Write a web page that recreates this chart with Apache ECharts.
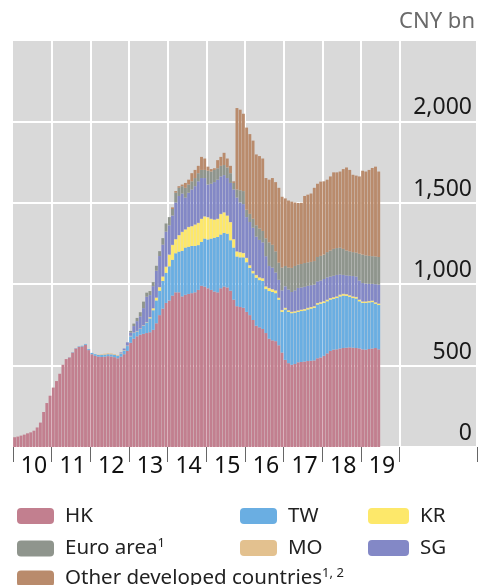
<!DOCTYPE html>
<html>
<head>
<meta charset="utf-8">
<script src="https://cdn.jsdelivr.net/npm/echarts@6/dist/echarts.min.js"></script>
<style>
  html, body { margin: 0; padding: 0; background: #fff; }
  #chart { width: 480px; height: 585px; }
</style>
</head>
<body>
<div id="chart"></div>
<script>
// axis spans 2010-2021 monthly, data runs Jan 2010 - Jun 2019
const years = ['10', '11', '12', '13', '14', '15', '16', '17', '18', '19', '20', '21']
const yTicks = [0, 500, 1000, 1500, 2000, 2500]

// CNY bn, one value per month
const hk = [
  60, 64, 70, 76, 84, 90, 100, 120, 150, 215, 270, 315,
  365, 405, 450, 505, 540, 550, 580, 605, 615, 618, 628, 595,
  570, 560, 555, 553, 555, 558, 556, 552, 545, 555, 570, 590,
  640, 665, 680, 690, 695, 700, 705, 720, 760, 810, 850, 885,
  900, 930, 950, 950, 925, 935, 940, 945, 950, 965, 990, 985,
  975, 965, 955, 950, 975, 985, 980, 960, 905, 865, 860, 855,
  830, 810, 780, 745, 735, 725, 700, 665, 655, 650, 625, 580,
  535, 515, 505, 510, 520, 522, 525, 528, 530, 532, 545, 550,
  560, 575, 590, 598, 600, 605, 608, 610, 612, 610, 608, 606,
  600, 598, 602, 605, 608, 600
]
const tw = [
  0, 0, 0, 0, 0, 0, 0, 0, 0, 0, 0, 0,
  0, 0, 0, 0, 0, 1, 2, 2, 3, 4, 5, 6,
  8, 10, 10, 12, 12, 12, 13, 14, 16, 18, 22, 30,
  40, 35, 30, 35, 50, 65, 85, 120, 140, 150, 170, 185,
  210, 220, 240, 250, 280, 290, 290, 290, 285, 275, 270, 295,
  300, 315, 330, 340, 330, 330, 330, 310, 320, 305, 305, 310,
  305, 290, 287, 295, 290, 295, 270, 293, 297, 295, 280, 250,
  310, 315, 317, 315, 310, 313, 313, 317, 320, 323, 330, 330,
  325, 320, 315, 312, 315, 320, 322, 318, 310, 305, 304, 289,
  285, 287, 286, 285, 272, 272
]
const kr = [
  0, 0, 0, 0, 0, 0, 0, 0, 0, 0, 0, 0,
  0, 0, 0, 0, 0, 0, 0, 0, 0, 0, 0, 0,
  0, 0, 0, 0, 0, 0, 0, 0, 0, 0, 0, 0,
  0, 0, 0, 0, 0, 0, 5, 10, 15, 20, 25, 35,
  70, 90, 85, 100, 115, 110, 120, 120, 130, 135, 140, 135,
  135, 120, 110, 110, 125, 125, 110, 110, 50, 30, 30, 25,
  25, 15, 13, 15, 15, 15, 15, 17, 16, 15, 10, 10,
  8, 8, 7, 7, 7, 7, 8, 8, 8, 8, 8, 8,
  8, 8, 8, 8, 8, 9, 9, 9, 8, 8, 8, 8,
  7, 7, 7, 7, 7, 7
]
const mo = [
  0, 0, 0, 0, 0, 0, 0, 0, 0, 0, 0, 0,
  0, 0, 0, 0, 0, 0, 0, 0, 0, 0, 0, 0,
  0, 0, 2, 4, 6, 6, 6, 5, 4, 3, 3, 3,
  3, 3, 3, 3, 3, 3, 3, 3, 3, 3, 3, 3,
  2, 2, 2, 2, 2, 2, 2, 2, 2, 2, 2, 2,
  2, 2, 2, 2, 2, 2, 2, 2, 2, 2, 2, 2,
  2, 2, 2, 2, 2, 2, 2, 2, 2, 2, 2, 2,
  2, 2, 2, 2, 2, 2, 2, 2, 2, 2, 2, 2,
  2, 2, 2, 2, 2, 2, 2, 2, 2, 2, 2, 2,
  2, 2, 2, 2, 2, 2
]
const sg = [
  0, 0, 0, 0, 0, 0, 0, 0, 0, 0, 0, 0,
  0, 0, 0, 0, 0, 0, 0, 0, 0, 0, 0, 0,
  0, 0, 0, 0, 0, 0, 0, 0, 0, 5, 10, 20,
  20, 40, 60, 75, 105, 155, 135, 135, 165, 190, 195, 215,
  180, 180, 225, 240, 235, 195, 210, 225, 235, 255, 250, 235,
  200, 215, 230, 240, 230, 228, 230, 240, 305, 330, 305, 300,
  250, 265, 265, 235, 230, 220, 185, 135, 132, 110, 110, 120,
  132, 127, 121, 128, 138, 136, 136, 135, 134, 132, 132, 132,
  137, 137, 132, 132, 132, 124, 116, 115, 120, 125, 125, 117,
  113, 110, 105, 103, 111, 116
]
const euro = [
  0, 0, 0, 0, 0, 0, 0, 0, 0, 0, 0, 0,
  0, 0, 0, 0, 0, 0, 0, 0, 0, 0, 0, 0,
  0, 0, 0, 0, 0, 0, 0, 0, 0, 0, 0, 0,
  10, 15, 20, 25, 40, 25, 25, 25, 30, 30, 40, 50,
  50, 40, 60, 50, 45, 60, 50, 50, 50, 50, 50, 50,
  85, 75, 75, 70, 65, 62, 65, 60, 40, 50, 75, 80,
  45, 50, 55, 70, 70, 70, 110, 145, 140, 130, 105, 140,
  125, 135, 148, 150, 143, 144, 146, 144, 143, 145, 150, 152,
  150, 155, 160, 165, 165, 164, 160, 153, 150, 147, 147, 165,
  175, 173, 172, 170, 170, 170
]
const other = [
  0, 0, 0, 0, 0, 0, 0, 0, 0, 0, 0, 0,
  0, 0, 0, 0, 0, 0, 0, 0, 0, 0, 0, 0,
  0, 0, 0, 0, 0, 0, 0, 0, 0, 0, 0, 0,
  0, 0, 0, 0, 0, 0, 0, 0, 0, 0, 0, 0,
  0, 10, 10, 10, 10, 30, 30, 50, 50, 45, 80, 70,
  25, 15, 10, 50, 55, 75, 55, 45, 10, 500, 495, 475,
  505, 490, 480, 435, 445, 445, 370, 385, 410, 425, 460, 435,
  415, 412, 407, 390, 379, 376, 412, 416, 420, 450, 450, 456,
  450, 445, 455, 470, 465, 468, 490, 510, 500, 475, 473, 475,
  515, 515, 528, 542, 552, 525
]

const months = []
years.forEach(y => {
  for (let m = 1; m <= 12; m++) months.push(y + '-' + m)
})

const font = 'Noto Sans'
const chart = echarts.init(document.getElementById('chart'))

function bar(name, data, color) {
  return {
    name: name,
    type: 'bar',
    stack: 'total',
    data: data,
    barCategoryGap: '10%',
    itemStyle: { color: color },
    emphasis: { disabled: true }
  }
}

const legendText = {
  fontFamily: font,
  fontSize: 20.5,
  lineHeight: 22,
  color: '#222',
  padding: [0, 0, 0, 6],
  rich: {
    s: { fontFamily: font, fontSize: 13, color: '#222', padding: [0, 0, 10, 0] }
  }
}
function legendName(name) {
  if (name === 'Euro area') return 'Euro area{s|1}'
  if (name === 'Other developed countries') return name + '{s|1, 2}'
  return name
}
// one legend per entry so the three columns line up like the original
function legendItem(name, left, top, w) {
  return {
    left: left, top: top, itemWidth: w || 37, itemHeight: 16,
    textStyle: legendText, formatter: legendName, data: [name]
  }
}

const option = {
  animation: false,
  grid: {
    left: 13, right: 3, top: 40, bottom: 138,
    show: true, backgroundColor: '#d9d9d9', borderWidth: 0
  },
  graphic: [{
    type: 'text', right: 5, top: 11,
    style: { text: 'CNY bn', fontFamily: font, fontSize: 22, fill: '#6a6a6a' }
  }],
  legend: [
    legendItem('HK', 12, 500),
    legendItem('TW', 235, 500),
    legendItem('KR', 363, 500, 41),
    legendItem('Euro area', 12, 532),
    legendItem('MO', 235, 532),
    legendItem('SG', 363, 532, 41),
    legendItem('Other developed countries', 12, 562)
  ],
  xAxis: {
    type: 'category',
    data: months,
    axisLine: { show: false },
    axisTick: {
      show: true, length: 15,
      interval: (i) => i % 12 === 0 && i <= 120,
      lineStyle: { color: '#666', width: 1 }
    },
    splitLine: {
      show: true,
      interval: (i) => i % 12 === 0 && i > 0 && i <= 120,
      lineStyle: { color: '#fff', width: 2 }
    },
    axisLabel: {
      interval: (i) => i % 12 === 6 && i < 120,
      formatter: (v) => v.split('-')[0],
      fontFamily: font, fontSize: 23, color: '#111', margin: 8
    }
  },
  yAxis: {
    type: 'value',
    position: 'right',
    min: 0, max: 2500, interval: 500,
    axisLine: { show: false },
    axisTick: { show: false },
    splitLine: { lineStyle: { color: '#fff', width: 2 } },
    axisLabel: {
      inside: true, margin: 5, verticalAlign: 'bottom', lineHeight: 27,
      fontFamily: font, fontSize: 23, color: '#1a1a1a',
      formatter: (v) => v === yTicks[5] ? '' : echarts.format.addCommas(v)
    }
  },
  series: [
    bar('HK', hk, '#c27f8f'),
    bar('TW', tw, '#6aaee2'),
    bar('KR', kr, '#fde86a'),
    bar('MO', mo, '#e3c18f'),
    bar('SG', sg, '#8388c6'),
    bar('Euro area', euro, '#8f958d'),
    bar('Other developed countries', other, '#b98b6c')
  ]
}

chart.setOption(option)
</script>
</body>
</html>
